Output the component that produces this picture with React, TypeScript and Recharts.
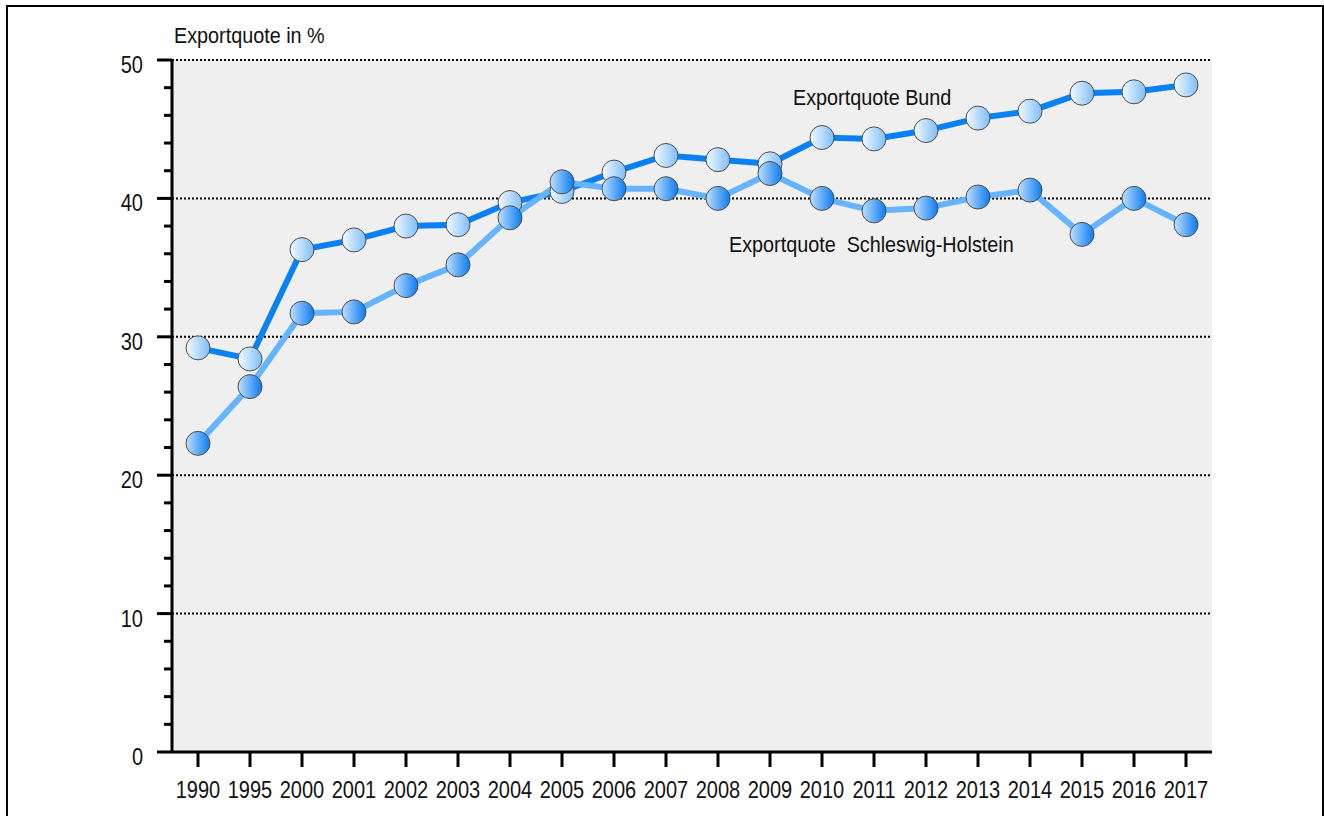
import { CartesianGrid, Line, LineChart, XAxis, YAxis } from 'recharts'

const YEARS = [
  '1990', '1995', '2000', '2001', '2002', '2003', '2004', '2005', '2006', '2007',
  '2008', '2009', '2010', '2011', '2012', '2013', '2014', '2015', '2016', '2017',
]
const BUND = [
  29.2, 28.4, 36.3, 37.0, 38.0, 38.1, 39.7, 40.5, 41.9, 43.1,
  42.8, 42.5, 44.4, 44.3, 44.9, 45.8, 46.3, 47.6, 47.7, 48.2,
]
const SCHLESWIG_HOLSTEIN = [
  22.3, 26.4, 31.7, 31.8, 33.7, 35.2, 38.6, 41.2, 40.7, 40.7,
  40.0, 41.8, 40.0, 39.1, 39.3, 40.1, 40.6, 37.4, 40.0, 38.1,
]
const Y_TICKS = [0, 2, 4, 6, 8, 10, 12, 14, 16, 18, 20, 22, 24, 26, 28, 30, 32, 34, 36, 38, 40, 42, 44, 46, 48, 50]
const GRID_VALUES = [10, 20, 30, 40, 50]

const FONT = "'Liberation Sans', Arial, sans-serif"
const TEXT_COLOR = '#111'

const chartData = YEARS.map((year, i) => ({
  year,
  bund: BUND[i],
  sh: SCHLESWIG_HOLSTEIN[i],
}))

// the source font is a narrow grotesque, so squeeze Liberation Sans a bit
function NarrowText({ x, y, size, scale, anchor = 'start', children }: any) {
  return (
    <text
      transform={`translate(${x} ${y}) scale(${scale} 1)`}
      textAnchor={anchor}
      fontSize={size}
      fontFamily={FONT}
      fill={TEXT_COLOR}
      style={{ whiteSpace: 'pre' }}
    >
      {children}
    </text>
  )
}

function YTick({ x, y, payload }: any) {
  const major = payload.value % 10 === 0
  return (
    <g>
      <line x1={x - (major ? 15 : 8)} x2={x} y1={y} y2={y} stroke="#000" strokeWidth={3} />
      {major && (
        <NarrowText x={x - 29} y={y + 13} size={23} scale={0.87} anchor="end">
          {payload.value}
        </NarrowText>
      )}
    </g>
  )
}

function XTick({ x, y, payload }: any) {
  return (
    <g>
      <line x1={x} x2={x} y1={y} y2={y + 15} stroke="#000" strokeWidth={3} />
      <NarrowText x={x} y={y + 46} size={23} scale={0.87} anchor="middle">
        {payload.value}
      </NarrowText>
    </g>
  )
}

const makeDot = (gradientId: string) => (props: any) => {
  const { cx, cy, index } = props
  return (
    <circle
      key={`${gradientId}-${index}`}
      cx={cx}
      cy={cy}
      r={12}
      fill={`url(#${gradientId})`}
      stroke="#4d4d4d"
      strokeWidth={1}
    />
  )
}

export default function App() {
  return (
    <div
      style={{
        position: 'absolute',
        left: 0,
        top: 0,
        width: 1324,
        height: 816,
        overflow: 'hidden',
        background: '#fff',
      }}
    >
      <svg width="0" height="0" style={{ position: 'absolute' }}>
        <defs>
          <linearGradient id="gradBund" x1="0" y1="0" x2="1" y2="0">
            <stop offset="0%" stopColor="#f4faff" />
            <stop offset="100%" stopColor="#7cbdfa" />
          </linearGradient>
          <linearGradient id="gradSH" x1="0" y1="0" x2="1" y2="0">
            <stop offset="0%" stopColor="#bfe0ff" />
            <stop offset="100%" stopColor="#0a7af0" />
          </linearGradient>
        </defs>
      </svg>

      <div
        style={{
          position: 'absolute',
          left: 6,
          top: 5,
          width: 1314,
          height: 900,
          border: '2px solid #000',
        }}
      />

      <div style={{ position: 'absolute', left: 0, top: 0 }}>
        <LineChart width={1324} height={816} data={chartData} margin={{ top: 60, right: 112, bottom: 0, left: 72 }}>
          <CartesianGrid
            vertical={false}
            horizontalValues={GRID_VALUES}
            stroke="#000"
            strokeWidth={2}
            strokeDasharray="2 2"
            fill="#efefef"
          />
          <XAxis
            dataKey="year"
            height={64}
            padding={{ left: 26, right: 26 }}
            axisLine={{ stroke: '#000', strokeWidth: 3 }}
            tickLine={false}
            tickSize={0}
            tickMargin={0}
            tick={<XTick />}
            interval={0}
          />
          <YAxis
            width={100}
            domain={[0, 50]}
            ticks={Y_TICKS}
            interval={0}
            axisLine={{ stroke: '#000', strokeWidth: 3 }}
            tickLine={false}
            tickSize={0}
            tickMargin={0}
            tick={<YTick />}
          />
          <Line
            dataKey="bund"
            stroke="#0a80f5"
            strokeWidth={6}
            dot={makeDot('gradBund')}
            activeDot={false}
            isAnimationActive={false}
          />
          <Line
            dataKey="sh"
            stroke="#66b3ff"
            strokeWidth={6}
            dot={makeDot('gradSH')}
            activeDot={false}
            isAnimationActive={false}
          />
        </LineChart>
      </div>

      <svg width={1324} height={816} style={{ position: 'absolute', left: 0, top: 0, pointerEvents: 'none' }}>
        <NarrowText x={174} y={43} size={22} scale={0.9}>
          Exportquote in %
        </NarrowText>
        <NarrowText x={793} y={105} size={22} scale={0.9}>
          Exportquote Bund
        </NarrowText>
        <NarrowText x={729} y={252} size={22} scale={0.9}>
          Exportquote  Schleswig-Holstein
        </NarrowText>
      </svg>
    </div>
  )
}
